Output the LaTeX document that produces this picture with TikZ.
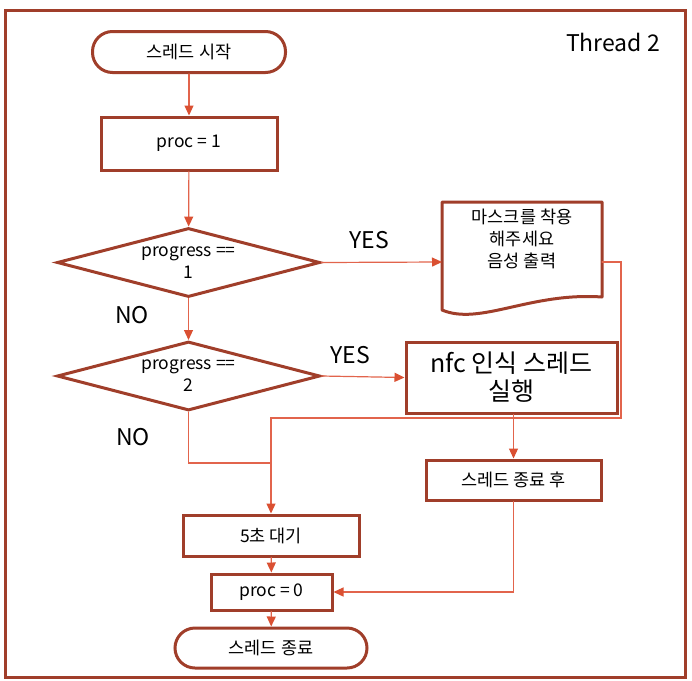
\documentclass[tikz,border=0pt]{standalone}
\usepackage{fontspec}
\setmainfont{Noto Sans CJK KR}
\usetikzlibrary{shapes.geometric,arrows.meta}
\definecolor{boxred}{RGB}{160,62,42}
\definecolor{linered}{RGB}{226,100,76}
\definecolor{tipred}{RGB}{218,80,50}

\tikzset{
  procbox/.style={draw=boxred,line width=3pt,inner sep=0pt,align=center,
    font=\fontsize{17.5}{22}\selectfont},
  term/.style={procbox,rounded corners=20pt},
  decide/.style={procbox,diamond,aspect=3.8,minimum width=263pt,minimum height=69pt},
  flow/.style={draw=linered,line width=1.2pt,
    -{Triangle[length=10pt,width=9pt,color=tipred]}},
  answer/.style={font=\fontsize{23}{26}\selectfont}
}

\begin{document}
\begin{tikzpicture}[x=1pt,y=-1pt,line cap=round]
        \useasboundingbox (0,0) rectangle (692,680);
        % frame
        \draw[boxred,line width=3pt] (5,10) rectangle (685,677);
        \node[font=\fontsize{23}{26}\selectfont] (title) at (613,42) {Thread 2};

        % main column
        \node[term,minimum width=193pt,minimum height=41pt] (start) at (189,52) {스레드 시작};
        \node[procbox,minimum width=176pt,minimum height=53pt] (set1) at (189,143.5) {proc = 1};
        \node[decide] (chk1) at (188.5,262.5) {progress ==\\1};
        \node[decide] (chk2) at (188.5,376) {progress ==\\2};

        % voice output (document shape)
        \draw[boxred,line width=3pt,line join=round] (602,297) -- (602,202) -- (442,202) -- (442,310)
            .. controls (480,326) and (530,292) .. (602,297) -- cycle;
        \node[font=\fontsize{17.5}{22}\selectfont,align=center,anchor=north] (voice) at (522,205)
            {마스크를 착용\\해주세요\\음성 출력};
        \coordinate (voiceL) at (442,262);
        \coordinate (voiceR) at (602,262);

        \node[procbox,minimum width=211pt,minimum height=71pt,font=\fontsize{25}{28}\selectfont] (nfc) at (511.5,377.5)
            {nfc 인식 스레드\\실행};
        \node[procbox,minimum width=175pt,minimum height=40pt] (after) at (513.5,480) {스레드 종료 후};

        % bottom column
        \node[procbox,minimum width=176pt,minimum height=41pt] (wait) at (271,535.5) {5초 대기};
        \node[procbox,minimum width=121pt,minimum height=36pt] (set0) at (271.5,592) {proc = 0};
        \node[term,minimum width=192pt,minimum height=40pt] (stop) at (271,648) {스레드 종료};

        \coordinate (back) at (621,418);
        \coordinate (join) at (271,463);

        % connectors
        \draw[flow] (start) -- (set1);
        \draw[flow] (set1) -- (chk1);
        \draw[flow] (chk1) -- (chk2);
        \draw[flow] (chk1.east) -- (voiceL);
        \draw[flow] (chk2.east) -- (nfc.west);
        \draw[flow] (nfc.south -| after) -- (after);
        \draw[flow] (voiceR) -| (back) -| (wait);
        \draw[draw=linered,line width=1.2pt] (chk2.south) |- (join);
        \draw[flow] (wait) -- (set0);
        \draw[flow] (after) |- (set0);
        \draw[flow] (set0) -- (stop);

        % answers
        \node[answer] (yes1) at (369,240) {YES};
        \node[answer] (yes2) at (350,355) {YES};
        \node[answer] (no1) at (132,315) {NO};
        \node[answer] (no2) at (133,437) {NO};
\end{tikzpicture}
\end{document}
